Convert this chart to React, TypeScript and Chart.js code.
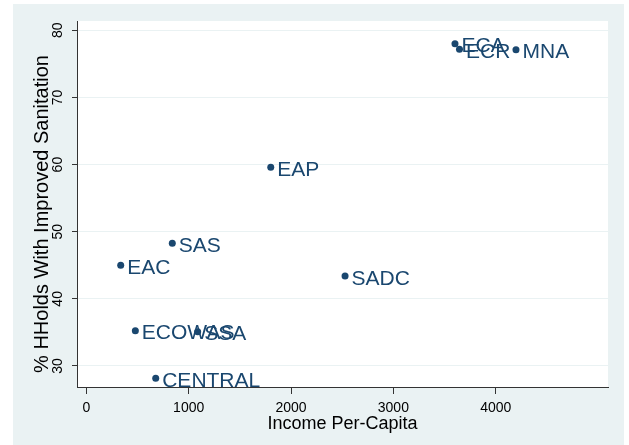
import React, { useEffect, useRef } from "react";
import { Chart, registerables } from "chart.js";
Chart.register(...registerables);

const regions = ["EAP", "ECA", "ECR", "MNA", "SADC", "SAS", "EAC", "ECOWAS", "SSA", "CENTRAL"];
const incomePerCapita = [1802, 3602, 3646, 4198, 2528, 840, 336, 479, 1088, 678];
const pctImprovedSanitation = [59.6, 78.0, 77.2, 77.1, 43.4, 48.3, 45.0, 35.26, 35.11, 28.17];
const xTicks = [0, 1000, 2000, 3000, 4000];
const yTicks = [30, 40, 50, 60, 70, 80];
const xTitle = "Income Per-Capita";
const yTitle = "% HHolds With Improved Sanitation";

const BG = "#EAF2F3";
const NAVY = "#1A476F";
const FONT = "'Liberation Sans', Arial, sans-serif";

export default function App() {
  const ref = useRef<HTMLCanvasElement | null>(null);
  useEffect(() => {
    document.body.style.margin = "0";
    const canvas = ref.current;
    if (!canvas) return;
    const decor = {
      id: "decor",
      beforeDraw(chart: any) {
        const ctx = chart.ctx;
        const a = chart.chartArea;
        ctx.save();
        ctx.fillStyle = "#ffffff";
        ctx.fillRect(0, 0, chart.width, chart.height);
        ctx.fillStyle = BG;
        ctx.fillRect(13, 4, 611, 441);
        ctx.fillStyle = "#ffffff";
        ctx.fillRect(a.left, a.top, a.right - a.left, a.bottom - a.top);
        ctx.restore();
      },
      afterDatasetsDraw(chart: any) {
        const ctx = chart.ctx;
        const xs = chart.scales.x;
        const ys = chart.scales.y;
        const a = chart.chartArea;
        ctx.save();
        // point labels
        ctx.fillStyle = NAVY;
        ctx.font = `21px ${FONT}`;
        ctx.textAlign = "left";
        ctx.textBaseline = "alphabetic";
        regions.forEach((r, i) => {
          const px = xs.getPixelForValue(incomePerCapita[i]);
          const py = ys.getPixelForValue(pctImprovedSanitation[i]);
          ctx.fillText(r, px + 6.5, py + 8.5);
        });
        // x tick labels
        ctx.fillStyle = "#000";
        ctx.font = `14px ${FONT}`;
        ctx.textAlign = "center";
        xTicks.forEach((t) => {
          ctx.fillText(String(t), xs.getPixelForValue(t), 411.7);
        });
        // y tick labels rotated
        yTicks.forEach((t) => {
          ctx.save();
          ctx.translate(62, ys.getPixelForValue(t));
          ctx.rotate(-Math.PI / 2);
          ctx.fillText(String(t), 0, 0);
          ctx.restore();
        });
        // titles
        ctx.font = `18px ${FONT}`;
        ctx.fillText(xTitle, (a.left + a.right) / 2, 428.5);
        ctx.font = `20px ${FONT}`;
        ctx.save();
        ctx.translate(47.5, 214);
        ctx.rotate(-Math.PI / 2);
        ctx.fillText(yTitle, 0, 0);
        ctx.restore();
        ctx.restore();
      },
    };
    const chart = new Chart(canvas, {
      type: "scatter",
      data: {
        datasets: [
          {
            data: incomePerCapita.map((x, i) => ({ x, y: pctImprovedSanitation[i] })),
            backgroundColor: NAVY,
            borderWidth: 0,
            pointRadius: 3.5,
          },
        ],
      },
      options: {
        animation: false,
        responsive: false,
        layout: { padding: { left: 13, top: 21, right: 21, bottom: 0 } },
        plugins: { legend: { display: false }, tooltip: { enabled: false } },
        scales: {
          x: {
            type: "linear",
            min: -91,
            max: 5097,
            afterBuildTicks: (s: any) => {
              s.ticks = xTicks.map((v) => ({ value: v }));
            },
            afterFit: (s: any) => {
              s.height = 58;
            },
            ticks: { display: false },
            grid: { color: "rgba(0,0,0,0)", tickColor: "#333", tickLength: 7, drawOnChartArea: false },
            border: { color: "#333", width: 1 },
          },
          y: {
            type: "linear",
            min: 26.87,
            max: 81.39,
            afterBuildTicks: (s: any) => {
              s.ticks = yTicks.map((v) => ({ value: v }));
            },
            afterFit: (s: any) => {
              s.width = 64;
            },
            ticks: { display: false },
            grid: { color: BG, tickColor: "#333", tickLength: 5 },
            border: { color: "#333", width: 1 },
          },
        },
      },
      plugins: [decor],
    });
    return () => chart.destroy();
  }, []);
  return <canvas ref={ref} width={629} height={445} style={{ display: "block" }} />;
}
